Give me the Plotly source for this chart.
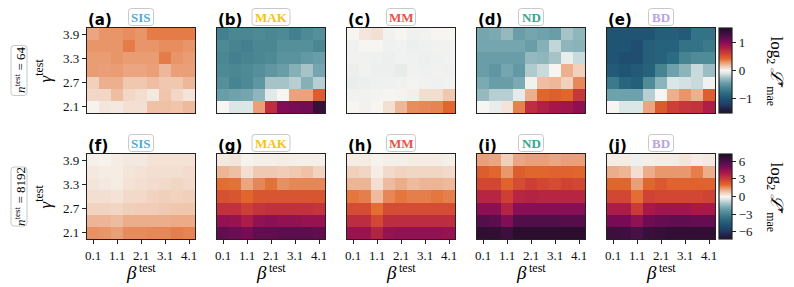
import plotly.graph_objects as go

W, H = 794, 287

beta = [0.1, 0.6, 1.1, 1.6, 2.1, 2.6, 3.1, 3.6, 4.1]
gamma = [3.9, 3.6, 3.3, 3.0, 2.7, 2.4, 2.1]  # top row first
beta_ticks = [0.1, 1.1, 2.1, 3.1, 4.1]
gamma_ticks = [2.1, 2.7, 3.3, 3.9]
methods = ["SIS", "MAK", "MM", "ND", "BD"]
method_colors = ["#4fa9d9", "#f2c318", "#e5534b", "#3aa58a", "#b9a3e3"]
letters_top = ["(a)", "(b)", "(c)", "(d)", "(e)"]
letters_bot = ["(f)", "(g)", "(h)", "(i)", "(j)"]
n_test = ["64", "8192"]

# ---- n_test = 64 (log2 L'_mae) ----
sis_64 = [
    [0.25, 0.30, 0.30, 0.32, 0.30, 0.36, 0.36, 0.36, 0.36],
    [0.30, 0.30, 0.30, 0.36, 0.30, 0.30, 0.32, 0.32, 0.30],
    [0.28, 0.28, 0.30, 0.28, 0.28, 0.28, 0.36, 0.30, 0.28],
    [0.28, 0.27, 0.28, 0.25, 0.25, 0.27, 0.20, 0.27, 0.27],
    [0.12, 0.22, 0.22, 0.15, 0.15, 0.18, 0.15, 0.15, 0.20],
    [0.10, 0.10, 0.18, 0.10, 0.08, 0.04, 0.16, 0.10, 0.06],
    [0.01, 0.05, 0.04, 0.07, 0.07, 0.17, 0.17, 0.16, 0.19],
]
mak_64 = [
    [-0.65, -0.60, -0.60, -0.58, -0.60, -0.58, -0.65, -0.58, -0.55],
    [-0.58, -0.62, -0.65, -0.60, -0.60, -0.55, -0.55, -0.55, -0.60],
    [-0.60, -0.65, -0.62, -0.60, -0.58, -0.52, -0.52, -0.48, -0.45],
    [-0.58, -0.60, -0.58, -0.55, -0.50, -0.45, -0.35, -0.25, -0.40],
    [-0.55, -0.62, -0.58, -0.50, -0.25, -0.25, -0.20, -0.35, -0.20],
    [-0.45, -0.42, -0.40, -0.32, -0.08, 0.00, 0.26, 0.26, 0.46],
    [0.00, -0.10, -0.10, 0.27, 0.70, 1.00, 1.05, 1.07, 1.35],
]
mm_64 = [
    [0.00, 0.05, 0.07, -0.02, 0.00, -0.03, -0.02, 0.00, 0.00],
    [-0.03, 0.00, 0.00, -0.03, -0.02, -0.04, -0.03, -0.02, -0.02],
    [-0.02, -0.02, -0.03, -0.04, -0.02, -0.03, -0.04, -0.03, -0.02],
    [-0.04, -0.02, -0.04, -0.04, -0.06, -0.02, -0.03, -0.02, -0.03],
    [-0.05, -0.04, -0.03, -0.03, -0.02, -0.01, -0.02, -0.03, -0.02],
    [-0.02, -0.02, -0.01, 0.00, 0.01, 0.02, 0.08, 0.08, 0.15],
    [0.00, -0.02, 0.00, 0.07, 0.20, 0.32, 0.33, 0.34, 0.42],
]
nd_64 = [
    [-0.40, -0.38, -0.30, -0.45, -0.40, -0.42, -0.45, -0.25, -0.32],
    [-0.40, -0.40, -0.40, -0.40, -0.45, -0.35, -0.17, -0.32, -0.34],
    [-0.45, -0.45, -0.45, -0.45, -0.30, -0.32, -0.25, -0.05, -0.15],
    [-0.45, -0.50, -0.40, -0.48, -0.22, -0.15, 0.00, 0.22, 0.12],
    [-0.38, -0.45, -0.45, -0.38, -0.02, 0.18, 0.20, 0.12, 0.33],
    [-0.30, -0.20, -0.20, -0.07, 0.22, 0.42, 0.45, 0.42, 0.65],
    [0.00, -0.05, 0.06, 0.35, 0.70, 0.78, 0.85, 0.87, 0.95],
]
bd_64 = [
    [-1.00, -1.00, -1.00, -1.00, -0.92, -0.92, -0.95, -0.75, -0.75],
    [-1.00, -1.00, -1.05, -0.92, -0.88, -0.88, -0.75, -0.75, -0.70],
    [-1.00, -1.05, -1.05, -0.92, -0.88, -0.80, -0.62, -0.57, -0.57],
    [-0.95, -1.00, -0.95, -0.88, -0.62, -0.43, -0.33, -0.15, -0.28],
    [-0.70, -0.85, -0.90, -0.57, -0.33, -0.10, -0.12, -0.15, -0.02],
    [-0.43, -0.43, -0.43, -0.20, 0.00, 0.22, 0.30, 0.22, 0.45],
    [0.00, -0.10, -0.10, 0.25, 0.47, 0.60, 0.65, 0.67, 0.80],
]

# ---- n_test = 8192 ----
sis_8192 = [
    [0.10, 0.05, 0.15, 0.20, 0.20, 0.30, 0.30, 0.30, 0.30],
    [0.20, 0.15, 0.15, 0.25, 0.30, 0.35, 0.35, 0.35, 0.40],
    [0.25, 0.20, 0.15, 0.30, 0.35, 0.40, 0.45, 0.50, 0.45],
    [0.35, 0.35, 0.30, 0.45, 0.45, 0.55, 0.60, 0.55, 0.60],
    [0.55, 0.55, 0.50, 0.60, 0.65, 0.65, 0.70, 0.75, 0.75],
    [1.00, 1.00, 0.90, 1.10, 1.10, 1.10, 1.10, 1.15, 1.15],
    [1.50, 1.45, 1.30, 1.55, 1.55, 1.60, 1.60, 1.70, 1.65],
]
mak_8192 = [
    [0.20, 0.25, 0.05, 0.10, 0.10, 0.15, 0.10, 0.10, 0.10],
    [1.00, 0.85, 0.35, 0.70, 0.70, 0.65, 0.70, 0.80, 0.55],
    [1.90, 1.85, 1.20, 1.60, 1.85, 1.50, 1.60, 1.60, 1.60],
    [2.50, 2.40, 2.00, 2.40, 2.40, 2.40, 2.40, 2.40, 2.40],
    [3.30, 3.30, 2.90, 3.20, 3.30, 3.30, 3.30, 3.30, 3.20],
    [4.50, 4.40, 3.90, 4.50, 4.60, 4.50, 4.50, 4.40, 4.40],
    [5.50, 5.30, 5.00, 5.50, 5.50, 5.60, 5.60, 5.60, 5.50],
]
mm_8192 = [
    [0.15, 0.15, 0.05, 0.10, 0.10, 0.15, 0.15, 0.15, 0.10],
    [0.60, 0.50, 0.15, 0.45, 0.55, 0.50, 0.50, 0.50, 0.45],
    [1.00, 1.00, 0.35, 0.90, 1.10, 0.90, 1.00, 1.00, 0.95],
    [1.80, 1.70, 0.90, 1.60, 1.80, 1.70, 1.70, 1.80, 1.70],
    [2.60, 2.60, 1.90, 2.60, 2.60, 2.60, 2.60, 2.60, 2.60],
    [3.40, 3.40, 2.70, 3.40, 3.40, 3.40, 3.40, 3.40, 3.40],
    [4.30, 4.30, 3.70, 4.40, 4.50, 4.50, 4.50, 4.50, 4.40],
]
nd_8192 = [
    [1.30, 1.20, 0.60, 1.20, 1.30, 1.30, 1.20, 1.30, 1.30],
    [2.20, 2.00, 1.40, 2.20, 2.00, 2.00, 2.10, 2.10, 2.00],
    [2.70, 2.70, 2.10, 2.60, 2.90, 2.70, 2.60, 2.80, 2.70],
    [3.60, 3.60, 2.90, 3.60, 3.70, 3.60, 3.60, 3.60, 3.60],
    [4.60, 4.60, 3.70, 4.70, 4.70, 4.70, 4.70, 4.70, 4.70],
    [5.70, 5.60, 4.80, 5.80, 5.80, 5.80, 5.80, 5.70, 5.70],
    [6.70, 6.60, 6.30, 6.80, 6.80, 6.80, 6.80, 6.80, 6.80],
]
bd_8192 = [
    [0.15, 0.15, -0.15, 0.10, 0.15, 0.15, 0.25, 0.15, 0.20],
    [1.10, 1.00, 0.35, 1.10, 1.40, 1.40, 1.40, 1.70, 1.10],
    [2.00, 2.00, 1.30, 2.00, 2.30, 2.10, 2.10, 2.10, 2.10],
    [2.70, 2.70, 1.90, 2.80, 2.70, 2.70, 2.70, 2.70, 2.80],
    [3.90, 3.90, 3.00, 4.00, 4.20, 4.20, 4.20, 4.00, 4.00],
    [5.00, 5.00, 4.50, 5.20, 5.40, 5.50, 5.50, 5.40, 5.40],
    [6.30, 6.20, 6.00, 6.40, 6.50, 6.60, 6.60, 6.60, 6.60],
]

panels_top = [sis_64, mak_64, mm_64, nd_64, bd_64]
panels_bot = [sis_8192, mak_8192, mm_8192, nd_8192, bd_8192]

cscale = [
    [0.00, "#1e1430"], [0.05, "#232448"], [0.10, "#203d66"], [0.167, "#1f5473"],
    [0.23, "#2b6b82"], [0.30, "#4a8793"], [0.36, "#6fa2ac"], [0.42, "#a9c5ca"],
    [0.47, "#dfe8e8"], [0.50, "#f6f5f2"], [0.55, "#f0c8b0"], [0.60, "#e9956a"],
    [0.635, "#e2692d"], [0.70, "#cd3f36"], [0.78, "#a8174a"], [0.84, "#7e0b58"],
    [0.92, "#451046"], [1.00, "#1f0c21"],
]

SERIF = "Liberation Serif, Times New Roman, Times, serif"
SANS = "DejaVu Sans, Arial, sans-serif"


def X(px):
    return px / W


def Y(py):
    return 1 - py / H


left_px = [87, 217, 347, 477, 607]
pw = 108
rows_px = [(28, 113), (154, 239)]

fig = go.Figure()
layout = dict(
    width=W, height=H, margin=dict(l=0, r=0, t=0, b=0, pad=0, autoexpand=False),
    paper_bgcolor="white", plot_bgcolor="white", showlegend=False,
)

annotations = []
shapes = []


def rrect(x0, y0, x1, y1, r=3):
    p = (f"M {X(x0 + r)},{Y(y0)} L {X(x1 - r)},{Y(y0)} Q {X(x1)},{Y(y0)} {X(x1)},{Y(y0 + r)} "
         f"L {X(x1)},{Y(y1 - r)} Q {X(x1)},{Y(y1)} {X(x1 - r)},{Y(y1)} "
         f"L {X(x0 + r)},{Y(y1)} Q {X(x0)},{Y(y1)} {X(x0)},{Y(y1 - r)} "
         f"L {X(x0)},{Y(y0 + r)} Q {X(x0)},{Y(y0)} {X(x0 + r)},{Y(y0)} Z")
    return dict(type="path", xref="paper", yref="paper", path=p,
                line=dict(color="#c8c8c8", width=1), fillcolor="white", layer="above")


box_w = {"SIS": 25, "MAK": 38, "MM": 29, "ND": 25, "BD": 25}

for r in range(2):
    data = panels_top if r == 0 else panels_bot
    letters = letters_top if r == 0 else letters_bot
    caxis = "coloraxis" if r == 0 else "coloraxis2"
    ytop, ybot = rows_px[r]
    for c in range(5):
        n = r * 5 + c + 1
        xa = "x" if n == 1 else f"x{n}"
        ya = "y" if n == 1 else f"y{n}"
        fig.add_trace(go.Heatmap(
            x=beta, y=gamma, z=data[c], coloraxis=caxis,
            xaxis=xa, yaxis=ya, hoverinfo="skip",
        ))
        x0 = left_px[c]
        xkey = "xaxis" if n == 1 else f"xaxis{n}"
        ykey = "yaxis" if n == 1 else f"yaxis{n}"
        layout[xkey] = dict(
            domain=[X(x0), X(x0 + pw)], anchor=ya, range=[-0.15, 4.35],
            showgrid=False, zeroline=False, showline=True, mirror=True,
            linecolor="#222", linewidth=1.3,
            tickvals=beta_ticks, ticktext=[str(v) for v in beta_ticks],
            ticks="outside" if r == 1 else "", ticklen=4, tickcolor="#222",
            showticklabels=(r == 1),
            tickfont=dict(family=SERIF, size=13, color="#111"),
        )
        layout[ykey] = dict(
            domain=[Y(ybot), Y(ytop)], anchor=xa, range=[1.95, 4.05],
            showgrid=False, zeroline=False, showline=True, mirror=True,
            linecolor="#222", linewidth=1.3,
            tickvals=gamma_ticks, ticktext=[str(v) for v in gamma_ticks],
            ticks="outside" if c == 0 else "", ticklen=4, tickcolor="#222",
            showticklabels=(c == 0),
            tickfont=dict(family=SERIF, size=13, color="#111"),
        )
        # panel letter
        annotations.append(dict(
            x=X(x0 - 1), y=Y(ytop - 8), xref="paper", yref="paper",
            xanchor="left", yanchor="middle", showarrow=False,
            text=f"<b>{letters[c]}</b>", font=dict(family=SANS, size=15, color="black"),
        ))
        # method label box
        cx = x0 + pw / 2
        cy = ytop - 11
        bw = box_w[methods[c]]
        shapes.append(rrect(cx - bw / 2, cy - 8.5, cx + bw / 2, cy + 8.5))
        annotations.append(dict(
            x=X(cx), y=Y(cy + 0.5), xref="paper", yref="paper",
            xanchor="center", yanchor="middle", showarrow=False,
            text=f"<b>{methods[c]}</b>",
            font=dict(family=SERIF, size=13, color=method_colors[c]),
        ))
        if r == 1:
            # beta^test x-axis title, drawn as glyph + raised superscript
            annotations.append(dict(
                x=X(cx - 3), y=Y(272), xref="paper", yref="paper",
                xanchor="right", yanchor="middle", showarrow=False, borderpad=0,
                text="<i>β</i>",
                font=dict(family=SERIF, size=19, color="black"),
            ))
            annotations.append(dict(
                x=X(cx - 3), y=Y(267.5), xref="paper", yref="paper",
                xanchor="left", yanchor="middle", showarrow=False, borderpad=0,
                text="test",
                font=dict(family=SERIF, size=12, color="black"),
            ))
    ymid = (ytop + ybot) / 2
    # gamma axis title
    annotations.append(dict(
        x=X(43), y=Y(ymid), xref="paper", yref="paper",
        xanchor="center", yanchor="middle", showarrow=False, textangle=-90,
        text="<i>γ</i><sup>test</sup>",
        font=dict(family=SERIF, size=17, color="black"),
    ))
    # n_test box
    bh = 50 if r == 0 else 59
    shapes.append(rrect(11, ymid - bh / 2, 27, ymid + bh / 2))
    annotations.append(dict(
        x=X(19.5), y=Y(ymid), xref="paper", yref="paper",
        xanchor="center", yanchor="middle", showarrow=False, textangle=-90,
        text=f"<i>n</i><sup>test</sup> = {n_test[r]}",
        font=dict(family=SERIF, size=13, color="black"),
    ))
    # colorbar title
    annotations.append(dict(
        x=X(775), y=Y(ymid), xref="paper", yref="paper",
        xanchor="center", yanchor="middle", showarrow=False, textangle=90,
        text="log<sub>2</sub> <i>ℒ̄</i>′<sub>mae</sub>",
        font=dict(family=SERIF, size=17, color="black"),
    ))

cb_common = dict(
    x=X(719), xanchor="left", xpad=0, ypad=0, yanchor="middle",
    lenmode="pixels", len=85, thicknessmode="pixels", thickness=13,
    outlinewidth=1.2, outlinecolor="#222", ticks="outside", ticklen=4,
    tickcolor="#222", tickfont=dict(family=SERIF, size=13, color="#111"),
)
layout["coloraxis"] = dict(
    colorscale=cscale, cmin=-1.5, cmax=1.5,
    colorbar=dict(**cb_common, y=Y(70.5), tickvals=[-1, 0, 1], ticktext=["−1", "0", "1"]),
)
layout["coloraxis2"] = dict(
    colorscale=cscale, cmin=-7.2, cmax=7.2,
    colorbar=dict(**cb_common, y=Y(196.5), tickvals=[-6, -3, 0, 3, 6],
                  ticktext=["−6", "−3", "0", "3", "6"]),
)
layout["annotations"] = annotations
layout["shapes"] = shapes
fig.update_layout(**layout)
fig.write_html(
    "out.html",
    config={"displayModeBar": False},
    post_script="document.body.style.margin='0';document.body.style.padding='0';",
)
